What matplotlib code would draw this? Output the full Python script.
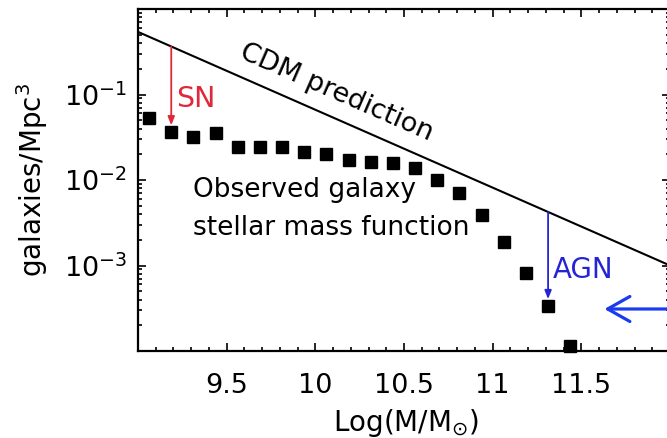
import matplotlib
matplotlib.use("Agg")
import matplotlib.pyplot as plt
import numpy as np

plt.rcParams["font.family"] = ["DejaVu Sans"]
plt.rcParams["mathtext.fontset"] = "dejavusans"

# observed stellar mass function (log M, number density)
log_mass = [9.0625, 9.1875, 9.3125, 9.4375, 9.5625, 9.6875, 9.8125, 9.9375,
            10.0625, 10.1875, 10.3125, 10.4375, 10.5625, 10.6875, 10.8125,
            10.9375, 11.0625, 11.1875, 11.3125, 11.4375]
density = [0.0537, 0.0367, 0.032, 0.0357, 0.0245, 0.0245, 0.024, 0.0213,
           0.0203, 0.0172, 0.0163, 0.0158, 0.0138, 0.0100, 0.0071,
           0.0039, 0.00186, 0.00081, 0.00034, 0.000115]

# CDM halo mass function, straight line in log space
cdm_x = [9.0, 12.0]
cdm_y = [0.54, 1.0e-3]

sn_idx = 1
agn_idx = 18

RED = "#e0283a"
BLUE = "#2424d6"
BRIGHT_BLUE = "#1a3cf0"


def cdm_at(x):
    return 10 ** np.interp(x, cdm_x, np.log10(cdm_y))


fig = plt.figure(figsize=(6.67, 4.38), dpi=100)
ax = fig.add_axes([138 / 667, 87 / 438, 532 / 667, 342 / 438])

ax.plot(cdm_x, cdm_y, color="black", lw=1.5)
ax.plot(log_mass, density, "s", color="black", ms=9.3, clip_on=False)

# feedback arrows from the CDM line down to the observed points
for idx, col in [(sn_idx, RED), (agn_idx, BLUE)]:
    x = log_mass[idx]
    ax.annotate("", xy=(x, density[idx] * 10 ** 0.075), xytext=(x, cdm_at(x)),
                arrowprops=dict(arrowstyle="-|>,head_length=0.5,head_width=0.2",
                                color=col, lw=1.3, shrinkA=0, shrinkB=0,
                                mutation_scale=10))

ax.text(9.214, 0.0723, "SN", color=RED, fontsize=20.5, va="baseline", ha="left")
ax.text(11.338, 7.22e-4, "AGN", color=BLUE, fontsize=20, va="baseline", ha="left")
ax.text(10.12, 0.104, "CDM prediction", fontsize=19.5, rotation=-23.6,
        ha="center", va="center", rotation_mode="anchor")
ax.text(9.31, 6.3e-3, "Observed galaxy", fontsize=19, va="baseline", ha="left")
ax.text(9.31, 2.25e-3, "stellar mass function", fontsize=19, va="baseline", ha="left")

# arrow coming in from the right edge
ax.annotate("", xy=(11.63, 3.1e-4), xytext=(12.1, 3.1e-4), annotation_clip=False,
            arrowprops=dict(arrowstyle="->,head_length=0.8,head_width=0.45",
                            color=BRIGHT_BLUE, lw=2.3, shrinkA=0, shrinkB=0,
                            mutation_scale=20))

ax.set_yscale("log")
ax.set_xlim(9.0, 12.0)
ax.set_ylim(1e-4, 1)
ax.set_xticks([9.5, 10, 10.5, 11, 11.5])
ax.set_xticklabels(["9.5", "10", "10.5", "11", "11.5"])
ax.set_xticks(np.arange(9.0, 12.01, 0.1), minor=True)
ax.set_yticks([1e-3, 1e-2, 1e-1])
ax.set_yticklabels([r"$10^{-3}$", r"$10^{-2}$", r"$10^{-1}$"])

ax.tick_params(which="both", direction="in", top=True, right=True,
               labelsize=19.5, width=1.2)
ax.tick_params(which="major", length=6)
ax.tick_params(which="minor", length=3)
ax.tick_params(axis="x", pad=16)
ax.tick_params(axis="y", pad=8)
for sp in ax.spines.values():
    sp.set_linewidth(1.6)

ax.set_xlabel(r"Log(M/M$_{\odot}$)", fontsize=20)
ax.set_ylabel(r"galaxies/Mpc$^3$", fontsize=20)
ax.xaxis.set_label_coords(0.504, -0.164)
ax.yaxis.set_label_coords(-0.165, 0.5)

fig.savefig("out.png", dpi=100)
